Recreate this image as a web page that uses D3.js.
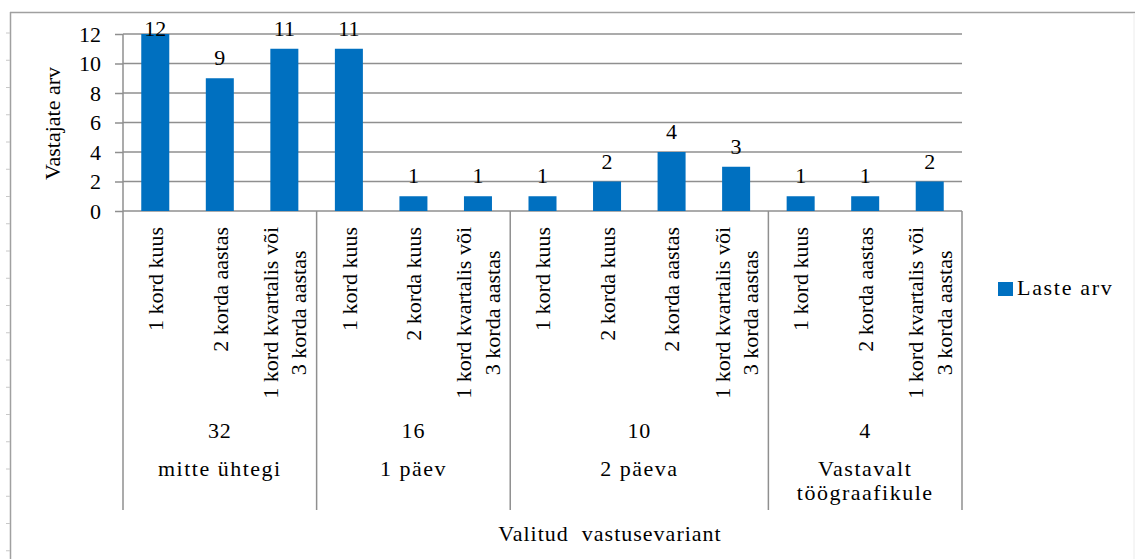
<!DOCTYPE html>
<html>
<head>
<meta charset="utf-8">
<script src="https://cdn.jsdelivr.net/npm/d3@7"></script>
<style>
  html, body { margin: 0; padding: 0; background: #fff; }
  svg { display: block; }
</style>
</head>
<body>
<svg id="chart" width="1135" height="559"></svg>
<script>
// Response options: outer groups (days) and their inner frequency categories
const groupNames = [["mitte ühtegi"], ["1 päev"], ["2 päeva"], ["Vastavalt", "töögraafikule"]];
const groupTotals = [32, 16, 10, 4];
const groupSizes = [3, 3, 4, 3];

const categoryLabels = [
  ["1 kord kuus"], ["2 korda aastas"], ["1 kord kvartalis või", "3 korda aastas"],
  ["1 kord kuus"], ["2 korda kuus"], ["1 kord kvartalis või", "3 korda aastas"],
  ["1 kord kuus"], ["2 korda kuus"], ["2 korda aastas"], ["1 kord kvartalis või", "3 korda aastas"],
  ["1 kord kuus"], ["2 korda aastas"], ["1 kord kvartalis või", "3 korda aastas"]
];
const values = [12, 9, 11, 11, 1, 1, 1, 2, 4, 3, 1, 1, 2];

const yTicks = [0, 2, 4, 6, 8, 10, 12];
const seriesName = "Laste arv";
const yTitle = "Vastajate arv";
const xTitle = "Valitud  vastusevariant";

const BLUE = "#0070C0";
const GRID = "#8f8f8f";
const FONT = "'Liberation Serif', 'Times New Roman', serif";

const svg = d3.select("#chart").style("font-family", FONT);

// chart frame
svg.append("line").attr("x1", 10.5).attr("x2", 10.5).attr("y1", 12).attr("y2", 559)
  .attr("stroke", "#a0a0a0").attr("stroke-width", 1.5);
svg.append("line").attr("x1", 10).attr("x2", 1135).attr("y1", 12.5).attr("y2", 12.5)
  .attr("stroke", "#a0a0a0").attr("stroke-width", 1.5);
svg.append("line").attr("x1", 1134).attr("x2", 1134).attr("y1", 13).attr("y2", 559)
  .attr("stroke", "#ececec").attr("stroke-width", 1);
// little ruler ticks on the left edge
d3.range(33, 559, 27.25).forEach(v => {
  svg.append("line").attr("x1", 6).attr("x2", 10).attr("y1", v).attr("y2", v)
    .attr("stroke", "#c8c8c8").attr("stroke-width", 1);
});

const plotLeft = 123, plotRight = 962, plotTop = 34, plotBase = 211, plotBottom = 510;

const idx = d3.range(values.length);
const slot = d3.scaleBand().domain(idx).range([plotLeft, plotRight]).padding(0);
const p = 0.566;
const x = d3.scaleBand().domain(idx).range([plotLeft, plotRight]).paddingInner(p).paddingOuter(p / 2);
const y = d3.scaleLinear().domain([0, 12]).range([plotBase, plotTop]);

// gridlines
svg.append("g").selectAll("line").data(yTicks.filter(t => t > 0)).join("line")
  .attr("x1", plotLeft).attr("x2", plotRight)
  .attr("y1", d => y(d)).attr("y2", d => y(d))
  .attr("stroke", GRID).attr("stroke-width", 1.5);

// y axis
const yAxis = svg.append("g").attr("transform", `translate(${plotLeft},0)`)
  .call(d3.axisLeft(y).tickValues(yTicks).tickSize(8).tickPadding(14));
yAxis.attr("font-family", null).attr("font-size", null);
yAxis.select(".domain").remove();
yAxis.selectAll(".tick line").attr("stroke", GRID).attr("stroke-width", 1.5);
yAxis.selectAll(".tick text").style("font-family", FONT).attr("font-size", 22).attr("fill", "#000");

// category axis line and group separators
svg.append("line").attr("x1", plotLeft).attr("x2", plotRight).attr("y1", plotBase).attr("y2", plotBase)
  .attr("stroke", GRID).attr("stroke-width", 1.5);
svg.append("line").attr("x1", plotLeft).attr("x2", plotLeft).attr("y1", plotTop).attr("y2", plotBase)
  .attr("stroke", GRID).attr("stroke-width", 1.5);

const groupStarts = [];
let acc = 0;
groupSizes.forEach(n => { groupStarts.push(acc); acc += n; });
const sepX = groupStarts.map(s => slot(s)).concat([slot(values.length - 1) + slot.bandwidth()]);
svg.append("g").selectAll("line").data(sepX).join("line")
  .attr("x1", d => d).attr("x2", d => d).attr("y1", plotBase).attr("y2", plotBottom)
  .attr("stroke", GRID).attr("stroke-width", 1.5);

// bars
svg.append("g").selectAll("rect").data(values).join("rect")
  .attr("x", (d, i) => x(i)).attr("width", x.bandwidth())
  .attr("y", d => y(d)).attr("height", d => plotBase - y(d))
  .attr("fill", BLUE);

// value labels
svg.append("g").selectAll("text").data(values).join("text")
  .attr("x", (d, i) => x(i) + x.bandwidth() / 2)
  .attr("y", d => Math.max(y(d) - 13, 36))
  .attr("text-anchor", "middle").attr("font-size", 22)
  .text(d => d);

// rotated category labels: block hangs from just under the axis,
// multi-line labels centred on their longest line
const catG = svg.append("g");
const labelTop = 227;
categoryLabels.forEach((lines, i) => {
  const cx = slot(i) + slot.bandwidth() / 2;
  const n = lines.length, lh = 28.5;
  const nodes = lines.map((ln, j) => {
    const off = (j - (n - 1) / 2) * lh;
    return catG.append("text")
      .attr("dy", "0.35em")
      .attr("font-size", 22)
      .attr("data-off", off)
      .text(ln);
  });
  const longest = d3.max(nodes, t => t.node().getComputedTextLength());
  nodes.forEach(t => {
    const off = +t.attr("data-off");
    t.attr("data-off", null)
      .attr("text-anchor", "middle")
      .attr("transform", `translate(${cx + off},${labelTop + longest / 2}) rotate(-90)`);
  });
});

// group totals and group names
groupSizes.forEach((n, g) => {
  const cx = (sepX[g] + sepX[g + 1]) / 2;
  svg.append("text").attr("x", cx).attr("y", 438).attr("text-anchor", "middle")
    .attr("font-size", 22).attr("letter-spacing", 0.8).text(groupTotals[g]);
  groupNames[g].forEach((ln, j) => {
    svg.append("text").attr("x", cx).attr("y", 476 + j * 24).attr("text-anchor", "middle")
      .attr("font-size", 22).attr("letter-spacing", 1.5).text(ln);
  });
});

// axis titles
svg.append("text").attr("transform", `translate(60,123.5) rotate(-90)`)
  .attr("text-anchor", "middle").attr("font-size", 22).text(yTitle);
svg.append("text").attr("x", 610).attr("y", 541).attr("text-anchor", "middle")
  .attr("font-size", 22).attr("letter-spacing", 1)
  .style("white-space", "pre").text(xTitle);

// legend
svg.append("rect").attr("x", 998).attr("y", 282).attr("width", 15).attr("height", 14).attr("fill", BLUE);
svg.append("text").attr("x", 1017).attr("y", 295).attr("font-size", 22)
  .attr("letter-spacing", 1.7).text(seriesName);
</script>
</body>
</html>
